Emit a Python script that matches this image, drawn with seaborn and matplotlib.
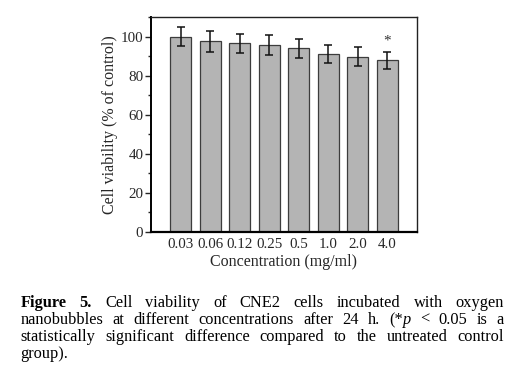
import matplotlib
matplotlib.use('Agg')
import matplotlib.pyplot as plt
import pandas as pd
import seaborn as sns
from matplotlib.ticker import MultipleLocator

# data
concentrations = ['0.03', '0.06', '0.12', '0.25', '0.5', '1.0', '2.0', '4.0']
viability = [100.0, 97.5, 96.5, 95.6, 93.9, 91.1, 89.7, 87.8]
viability_sd = [5.0, 5.2, 5.0, 5.2, 5.1, 4.8, 4.9, 4.5]
significant = [False, False, False, False, False, False, False, True]

caption_lines = [
    [('Figure', 'bold'), ('5.', 'bold'), 'Cell', 'viability', 'of', 'CNE2', 'cells',
     'incubated', 'with', 'oxygen'],
    ['nanobubbles', 'at', 'different', 'concentrations', 'after', '24', 'h.',
     [('(*', 'normal'), ('p', 'italic')], '<', '0.05', 'is', 'a'],
    ['statistically', 'significant', 'difference', 'compared', 'to', 'the',
     'untreated', 'control'],
    ['group).'],
]

df = pd.DataFrame({'Concentration': concentrations, 'Viability': viability})

sns.set_style('ticks')
plt.rcParams['font.family'] = ['Liberation Serif', 'DejaVu Serif']

fig = plt.figure(figsize=(5.22, 3.8), dpi=100)
ax = fig.add_axes([151 / 522, 1 - 232 / 380, 266 / 522, 215 / 380])

sns.barplot(data=df, x='Concentration', y='Viability', order=concentrations,
            color='#b4b4b4', saturation=1, width=0.71, edgecolor='#3c3c3c',
            linewidth=0.9, errorbar=None, ax=ax)
ax.errorbar(range(len(concentrations)), viability, yerr=viability_sd, fmt='none',
            ecolor='#111111', elinewidth=1.1, capsize=3, capthick=1.1)
for i, sig in enumerate(significant):
    if sig:
        ax.text(i, viability[i] + viability_sd[i] + 2.2, '*', ha='center',
                va='bottom', fontsize=11, color='#333333')

ax.set_xlim(-1, len(concentrations))
ax.set_ylim(0, 110)
ax.yaxis.set_major_locator(MultipleLocator(20))
ax.yaxis.set_minor_locator(MultipleLocator(10))
ax.tick_params(axis='y', which='major', length=4, width=1, direction='out',
               labelsize=10.8, pad=1.5)
ax.tick_params(axis='y', which='minor', length=2.5, width=1, direction='out')
ax.tick_params(axis='x', length=0, labelsize=10.8, pad=4.5)
for s in ax.spines.values():
    s.set_visible(True)
    s.set_linewidth(1.0)
    s.set_color('#222222')
ax.spines['bottom'].set_linewidth(1.6)
ax.spines['left'].set_linewidth(1.4)
ax.spines['bottom'].set_color('black')
ax.spines['left'].set_color('black')
ax.set_xlabel('Concentration (mg/ml)', fontsize=11.5, labelpad=2)
ax.set_ylabel('Cell viability (% of control)', fontsize=11.5, labelpad=2)

# justified caption
renderer = fig.canvas.get_renderer()
cap_left, cap_right = 20.5, 504
cap_size = 11.8
baselines = [307, 324, 341, 357.5]


def make_piece(x, y, s, style):
    weight = 'bold' if style == 'bold' else 'normal'
    fstyle = 'italic' if style == 'italic' else 'normal'
    t = fig.text(x / 522, 1 - y / 380, s, fontsize=cap_size, fontweight=weight,
                 fontstyle=fstyle, va='baseline', ha='left', color='black')
    return t


def word_width(word):
    pieces = word if isinstance(word, list) else [word if isinstance(word, tuple) else (word, 'normal')]
    total = 0
    for s, st in pieces:
        t = make_piece(0, 0, s, st)
        total += t.get_window_extent(renderer).width
        t.remove()
    return total, pieces


for li, line in enumerate(caption_lines):
    info = [word_width(w) for w in line]
    widths = [w for w, _ in info]
    if li < len(caption_lines) - 1 and len(line) > 1:
        gap = (cap_right - cap_left - sum(widths)) / (len(line) - 1)
    else:
        gap = 4
    x = cap_left
    for w, pieces in info:
        px = x
        for s, st in pieces:
            t = make_piece(px, baselines[li], s, st)
            px += t.get_window_extent(renderer).width
        x += w + gap

fig.savefig('out.png', dpi=100)
